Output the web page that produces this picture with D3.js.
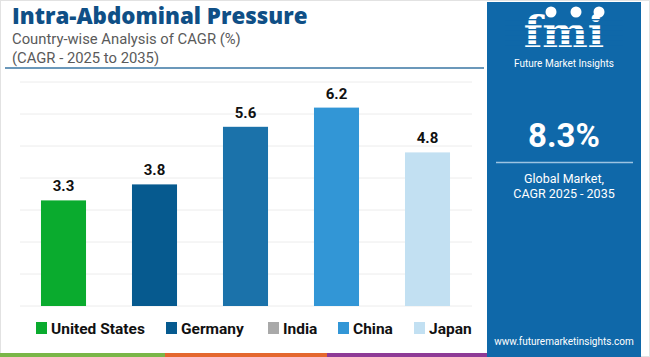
<!DOCTYPE html>
<html><head><meta charset="utf-8">
<script src="https://cdn.jsdelivr.net/npm/d3@7"></script>
<style>body{margin:0;background:#fff}svg{display:block}</style>
</head><body><svg id="c" width="650" height="357"></svg>
<script>
const categories = ["United States","Germany","India","China","Japan"];
const values = [3.3,3.8,5.6,6.2,4.8];
const barColors = ["#0aab2e","#065a8f","#1b72aa","#3296d6","#c2e0f2"];
const legendColors = ["#0aab2e","#065a8f","#a9a9a9","#3296d6","#c2e0f2"];
const yTicks = [0,1,2,3,4,5,6,7];
const title = "Intra-Abdominal Pressure";
const subtitle1 = "Country-wise Analysis of CAGR (%)";
const subtitle2 = "(CAGR - 2025 to 2035)";
const globalValue = "8.3%";

const svg = d3.select("#c");
const font = "Roboto, 'Open Sans', sans-serif";
const font2 = "'Open Sans', Roboto, sans-serif";

// outer border
svg.append("rect").attr("x",0.5).attr("y",0.5).attr("width",649).attr("height",356).attr("fill","none").attr("stroke","#e2e2e2");

// title
svg.append("text").attr("x",12).attr("y",23.5).text(title)
  .attr("font-family",font2).attr("font-weight",800).attr("font-size",22.3).attr("fill","#0f4f86");
svg.append("text").attr("x",12).attr("y",44).text(subtitle1)
  .attr("font-family",font).attr("font-size",14.8).attr("fill","#5a5a5a");
svg.append("text").attr("x",12).attr("y",63).text(subtitle2)
  .attr("font-family",font).attr("font-size",14.8).attr("fill","#5a5a5a");
svg.append("line").attr("x1",5).attr("x2",484).attr("y1",68).attr("y2",68)
  .attr("stroke","#3a76a3").attr("stroke-width",1.5);

// scales
const x = d3.scaleBand().domain(categories).range([18,473]).paddingInner(0.505).paddingOuter(0.2525);
const y = d3.scaleLinear().domain([0,7]).range([306,82]);

// grid
svg.append("g").selectAll("line").data(yTicks).join("line")
  .attr("x1",20).attr("x2",472).attr("y1",d=>y(d)).attr("y2",d=>y(d))
  .attr("stroke","#ececec").attr("stroke-width",1);

// bars
svg.append("g").selectAll("rect").data(values).join("rect")
  .attr("x",(d,i)=>x(categories[i])).attr("width",x.bandwidth())
  .attr("y",d=>y(d)).attr("height",d=>y(0)-y(d))
  .attr("fill",(d,i)=>barColors[i]);

// labels
svg.append("g").selectAll("text").data(values).join("text")
  .attr("x",(d,i)=>x(categories[i])+x.bandwidth()/2).attr("y",d=>y(d)-9)
  .attr("text-anchor","middle").text(d=>d.toFixed(1))
  .attr("font-family",font).attr("font-weight",700).attr("font-size",15).attr("fill","#111");

// legend
const legX = [36,166,268,338,414];
const lg = svg.append("g").selectAll("g").data(categories).join("g")
  .attr("transform",(d,i)=>`translate(${legX[i]},328)`);
lg.append("rect").attr("x",0).attr("y",-6).attr("width",11).attr("height",12).attr("fill",(d,i)=>legendColors[i]);
lg.append("text").attr("x",15).attr("y",5.5).text(d=>d)
  .attr("font-family",font).attr("font-weight",700).attr("font-size",15.5).attr("fill","#111");

// bottom strip
const strip = [["#7ab648",0,165],["#e4672e",165,327],["#8e3a96",327,487]];
svg.append("g").selectAll("rect").data(strip).join("rect")
  .attr("x",d=>d[1]).attr("width",d=>d[2]-d[1]).attr("y",353).attr("height",4).attr("fill",d=>d[0]);

// right panel
const px = 487, pw = 154, pc = px + pw/2;
svg.append("rect").attr("x",px).attr("y",2).attr("width",pw).attr("height",355).attr("fill","#0f68a9");

// logo
const logo = svg.append("g");
logo.append("text").attr("x",pc).attr("y",47).attr("text-anchor","middle").text("fmi")
  .attr("font-family","'DejaVu Serif', serif").attr("font-weight",700).attr("font-size",43).attr("fill","#fff");
[19,24,29,34,39,44].forEach(yy=>{
  logo.append("rect").attr("x",px+18).attr("y",yy).attr("width",118).attr("height",1.3).attr("fill","#0f68a9");
});
[[551,12],[576,12],[599,12]].forEach(p=>{
  logo.append("circle").attr("cx",p[0]).attr("cy",p[1]).attr("r",5.5).attr("fill","#fff");
});
logo.append("text").attr("x",pc).attr("y",67).attr("text-anchor","middle").text("Future Market Insights")
  .attr("font-family",font).attr("font-size",10).attr("fill","#fff");

svg.append("text").attr("x",pc).attr("y",147).attr("text-anchor","middle").text(globalValue)
  .attr("font-family",font).attr("font-weight",700).attr("font-size",33).attr("fill","#fff");
svg.append("line").attr("x1",496).attr("x2",633).attr("y1",162.5).attr("y2",162.5).attr("stroke","#9cc3e2").attr("stroke-width",1.5);
svg.append("text").attr("x",pc).attr("y",183).attr("text-anchor","middle").text("Global Market,")
  .attr("font-family",font).attr("font-size",12.5).attr("fill","#fff");
svg.append("text").attr("x",pc).attr("y",198).attr("text-anchor","middle").text("CAGR 2025 - 2035")
  .attr("font-family",font).attr("font-size",12.5).attr("fill","#fff");
svg.append("text").attr("x",pc).attr("y",345).attr("text-anchor","middle").text("www.futuremarketinsights.com")
  .attr("font-family",font).attr("font-size",10).attr("fill","#fff");
</script></body></html>
